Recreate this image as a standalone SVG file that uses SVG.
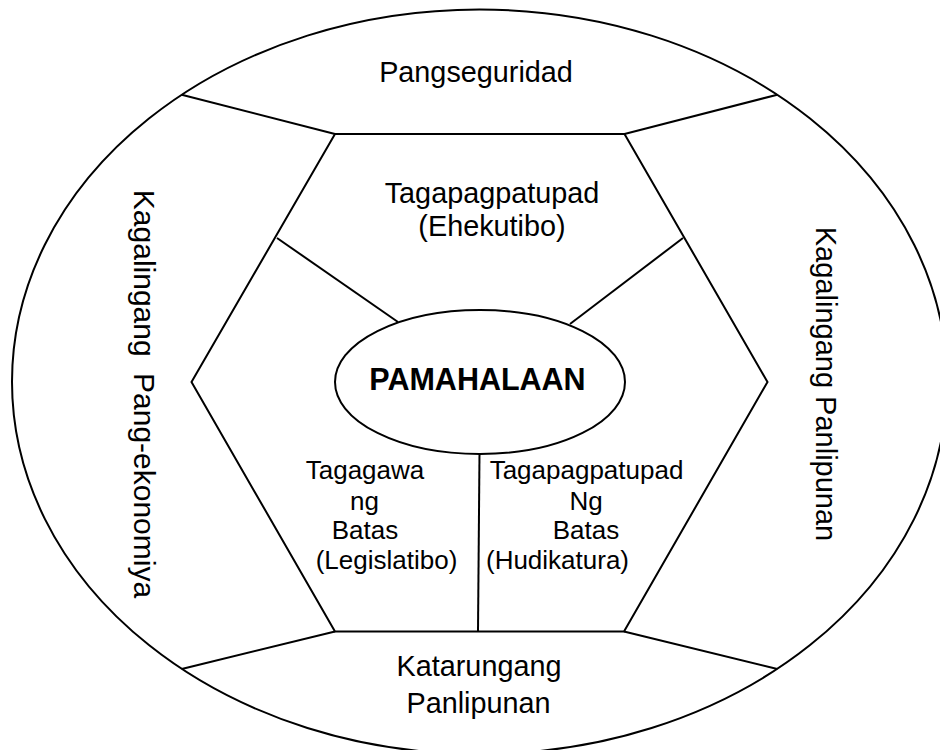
<svg xmlns="http://www.w3.org/2000/svg" width="940" height="750" viewBox="0 0 940 750">
<style>
.ln{fill:none;stroke:#000;stroke-width:2}
.t{font-family:"Liberation Sans",Arial,sans-serif;fill:#000;text-anchor:middle}
.big{font-size:28.8px}
.sm{font-size:26px}
.b{font-size:30.5px;font-weight:bold}
</style>
<rect width="940" height="750" fill="#fff"/>
<g id="outer">
<ellipse class="ln" cx="479.5" cy="381.8" rx="467.5" ry="372.3"/>
</g>
<g id="hexagon">
<polygon class="ln" points="335,134 624.5,134 767.5,382 624,631.5 335,631.5 191.5,382"/>
</g>
<g id="connectors">
<line class="ln" x1="335" y1="134" x2="181.7" y2="94.7"/>
<line class="ln" x1="624.5" y1="134" x2="777.3" y2="94.7"/>
<line class="ln" x1="335" y1="631.5" x2="181.7" y2="669"/>
<line class="ln" x1="624" y1="631.5" x2="777.3" y2="669"/>
<line class="ln" x1="277" y1="238" x2="398" y2="322"/>
<line class="ln" x1="683" y1="238" x2="570" y2="324"/>
<line class="ln" x1="479.5" y1="453" x2="478" y2="631.5"/>
</g>
<g id="pamahalaan">
<ellipse class="ln" cx="480" cy="382" rx="145" ry="72"/>
<text class="t b" x="477.5" y="390">PAMAHALAAN</text>
</g>
<g id="pangseguridad">
<text class="t big" x="476" y="81.7">Pangseguridad</text>
</g>
<g id="ehekutibo">
<text class="t big" x="492" y="203.3">Tagapagpatupad</text>
<text class="t big" x="492" y="235.5">(Ehekutibo)</text>
</g>
<g id="legislatibo">
<text class="t sm" x="365" y="479">Tagagawa</text>
<text class="t sm" x="364.5" y="509.5">ng</text>
<text class="t sm" x="365" y="539">Batas</text>
<text class="t sm" x="386.5" y="568.5">(Legislatibo)</text>
</g>
<g id="hudikatura">
<text class="t sm" x="586.5" y="479">Tagapagpatupad</text>
<text class="t sm" x="586" y="509.5">Ng</text>
<text class="t sm" x="586" y="539">Batas</text>
<text class="t sm" x="557.5" y="568.5">(Hudikatura)</text>
</g>
<g id="katarungang">
<text class="t big" x="479" y="676">Katarungang</text>
<text class="t big" x="478.5" y="712.5">Panlipunan</text>
</g>
<g id="ekonomiya">
<text class="t" style="font-size:30px;word-spacing:8px" transform="translate(134,394) rotate(90)">Kagalingang Pang-ekonomiya</text>
</g>
<g id="panlipunan">
<text class="t" style="font-size:29px" transform="translate(816,384) rotate(90)">Kagalingang Panlipunan</text>
</g>
</svg>
